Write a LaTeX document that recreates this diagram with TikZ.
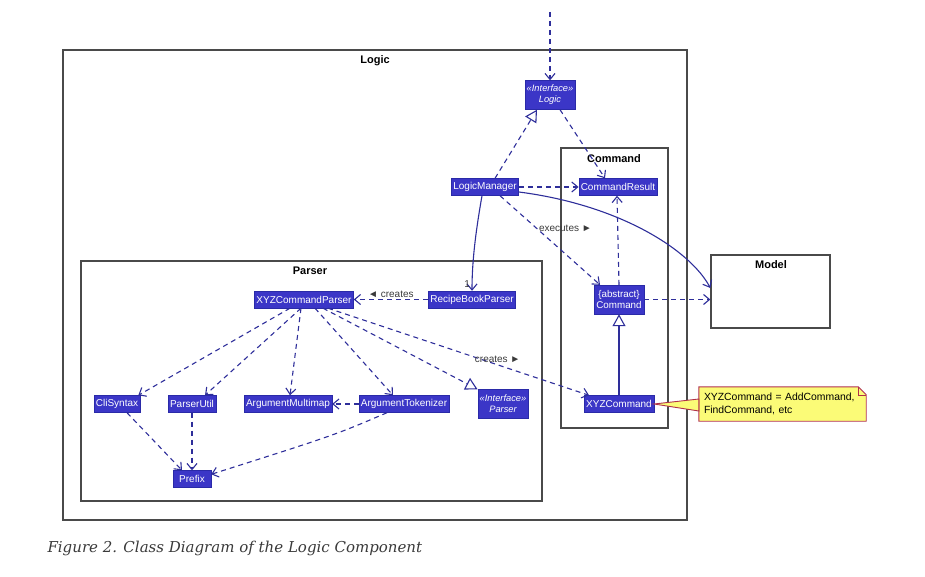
\documentclass[tikz,border=0pt]{standalone}
\usepackage{fontspec}
\setmainfont{Liberation Sans}
\newfontfamily\figcapfont{DejaVu Serif}
\usetikzlibrary{positioning, arrows.meta}
\definecolor{umlfill}{HTML}{3B36C7}
\definecolor{umlborder}{HTML}{2A2AA8}
\definecolor{umledge}{HTML}{2E2E9A}
\definecolor{pkggray}{HTML}{4A4A4A}
\definecolor{noteyellow}{HTML}{FBFB77}
\definecolor{notered}{HTML}{B0304A}
\definecolor{labelgray}{HTML}{3A3A3A}

\begin{document}
\begin{tikzpicture}[
  x=1pt, y=-1pt,
  font=\fontsize{10}{12}\selectfont,
  cls/.style={
    draw=umlborder, fill=umlfill, text=white, inner xsep=2pt, inner ysep=0pt,
    minimum height=17pt, font=\fontsize{10}{12}\selectfont
  },
  iface/.style={cls, align=center, minimum height=29pt, minimum width=50pt,
    font=\fontsize{9.3}{11}\selectfont},
  pkg/.style={draw=pkggray, line width=1.3pt},
  pkgtitle/.style={font=\fontsize{11}{13}\selectfont\bfseries, text=black},
  dep/.style={draw=umledge, line width=1.1pt, dash pattern=on 5pt off 4pt,
    -{Straight Barb[length=6pt, width=10pt]}},
  assoc/.style={draw=umledge, line width=1.1pt, -{Straight Barb[length=6pt, width=10pt]}},
  realize/.style={draw=umledge, line width=1.1pt, dash pattern=on 5pt off 4pt,
    -{Triangle[open, length=12pt, width=13pt]}},
  extend/.style={draw=umledge, line width=1.1pt, -{Triangle[open, length=12pt, width=13pt]}},
  edgelabel/.style={text=labelgray, inner sep=1.5pt, font=\fontsize{10}{12}\selectfont},
]
\useasboundingbox (0,0) rectangle (925,577);

% packages
\draw[pkg] (63,50) rectangle (687,520);
\node[pkgtitle] (logictitle) at (375,61) {Logic};
\draw[pkg] (561,148) rectangle (668,428);
\node[pkgtitle] (cmdtitle) at (614,159) {Command};
\draw[pkg] (81,261) rectangle (542,501);
\node[pkgtitle] (parsertitle) at (310,271) {Parser};
\node[pkg, minimum width=119pt, minimum height=73pt] (model) at (770.5,291.5) {};
\node[pkgtitle] (modeltitle) at (771,265) {Model};

% classes
\node[iface] (ilogic) at (550,95) {\itshape «Interface»\\\itshape Logic};
\node[cls] (lm) at (485,187) {LogicManager};
\node[cls] (cres) at (618,187) {CommandResult};
\node[iface, font=\fontsize{9.8}{11.5}\selectfont] (acmd) at (619,299.5) {\{abstract\}\\Command};
\node[cls] (xyzcmd) at (619,404) {XYZCommand};

\node[cls] (xcp) at (304,299.5) {XYZCommandParser};
\node[cls] (rbp) at (472,299.5) {RecipeBookParser};
\node[cls] (cli) at (117,404) {CliSyntax};
\node[cls] (pu) at (192,404) {ParserUtil};
\node[cls] (amm) at (288,404) {ArgumentMultimap};
\node[cls] (atok) at (404,404) {ArgumentTokenizer};
\node[iface] (iparser) at (503,404) {\itshape «Interface»\\\itshape Parser};
\node[cls, minimum width=38pt] (prefix) at (192,479) {Prefix};

% note
\node[fill=noteyellow, minimum width=167pt, minimum height=34pt, text width=157pt,
  align=left, inner xsep=4pt, font=\fontsize{10.4}{13}\selectfont] (note) at (782.5,404)
  {XYZCommand = AddCommand,\\FindCommand, etc};
\fill[white] ([xshift=-8pt]note.north east) -- (note.north east) -- ([yshift=-8pt]note.north east) -- cycle;
\draw[notered, line width=0.9pt] (note.north west) -- ([xshift=-8pt]note.north east)
  -- ([yshift=-8pt]note.north east) -- (note.south east) -- (note.south west) -- cycle;
\draw[notered, line width=0.6pt] ([xshift=-8pt]note.north east) -- ([xshift=-8pt, yshift=-8pt]note.north east)
  -- ([yshift=-8pt]note.north east);
\filldraw[fill=noteyellow, draw=notered, line width=0.9pt] (xyzcmd.east)
  -- ([yshift=5pt]note.west) -- ([yshift=-7pt]note.west) -- cycle;

% connectors
\coordinate (entry) at (550,12);
\draw[dep] (entry) -- (ilogic.north);
\draw[realize] ([xshift=10pt]lm.north) -- ([xshift=-13pt]ilogic.south);
\draw[dep] ([xshift=10pt]ilogic.south) -- ([xshift=-13pt]cres.north);
\draw[dep] (lm) -- (cres);
\draw[assoc] ([yshift=-5pt]lm.east) .. controls (620,205) and (690,250) .. ([yshift=3.5pt]model.west);
\draw[assoc] ([xshift=-3pt]lm.south) .. controls (476,230) and (472,260) .. node[edgelabel, pos=0.93, left] {1} (rbp.north);
\draw[dep] ([xshift=15pt]lm.south) -- node[edgelabel, pos=0.37, right] {executes ►} ([xshift=-19pt]acmd.north);
\draw[dep] (acmd.north) -- ([xshift=-1pt]cres.south);
\draw[dep] (acmd.east) -- (model.west |- acmd.east);
\draw[extend] (xyzcmd.north) -- (acmd.south);

\draw[dep] (rbp.west) -- node[edgelabel, above] {◄ creates} (xcp.east);
\draw[dep] ([xshift=-14pt]xcp.south) -- ([xshift=-2pt]cli.north east);
\draw[dep] ([xshift=-3pt]xcp.south) -- ([xshift=13pt]pu.north);
\draw[dep] ([xshift=-3pt]xcp.south) -- ([xshift=2pt]amm.north);
\draw[dep] ([xshift=11pt]xcp.south) -- ([xshift=-11pt]atok.north);
\draw[realize] ([xshift=19pt]xcp.south) -- (iparser.north west);
\draw[dep] ([xshift=24pt]xcp.south) -- node[edgelabel, pos=0.65, above] {creates ►} ([xshift=5pt]xyzcmd.north west);
\draw[dep] (atok.west) -- (amm.east);
\draw[dep] ([xshift=10pt]cli.south) -- ([xshift=-10pt]prefix.north);
\draw[dep] (pu.south) -- (prefix.north);
\draw[dep] ([xshift=-17pt]atok.south) .. controls (335,435) .. ([yshift=-4pt]prefix.north east);

% caption
\node[font=\figcapfont\itshape\fontsize{15}{18}\selectfont, text=labelgray, anchor=west]
  (caption) at (44,548) {Figure 2. Class Diagram of the Logic Component};
\end{tikzpicture}
\end{document}
